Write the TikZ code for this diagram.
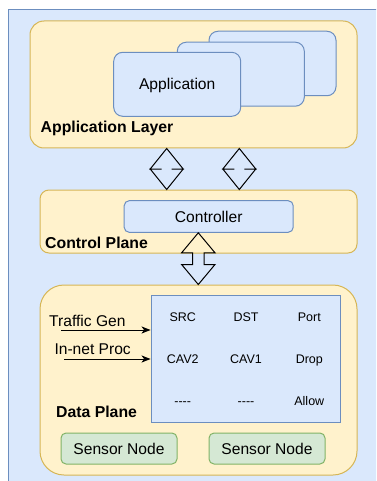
\documentclass[tikz,border=0pt]{standalone}
\usepackage{fontspec}
\setmainfont{Liberation Sans}
\usepackage{tikz}
\usetikzlibrary{matrix}
\usetikzlibrary{calc}
\usetikzlibrary{arrows.meta}
\usepackage{xcolor}

\definecolor{boxblue}{HTML}{DAE8FC}
\definecolor{lineblue}{HTML}{6C8EBF}
\definecolor{boxyellow}{HTML}{FFF2CC}
\definecolor{lineyellow}{HTML}{D6B656}
\definecolor{boxgreen}{HTML}{D5E8D4}
\definecolor{linegreen}{HTML}{82B366}

\newcommand{\labsize}{\fontsize{15.6}{18}\selectfont}
\newcommand{\cellsize}{\fontsize{12.5}{15}\selectfont}

\newcommand{\dblarrow}[5]{%
  \draw[dblarr] let \p1=(#1), \p2=(#2) in
    (\p1) -- ++(#3,#5) -- ++(#4-#3,0) -- (\x1+#4pt,\y2+#5pt) -- ++(#3-#4,0)
    -- (\p2) -- ++(-#3,-#5) -- ++(#3-#4,0) -- (\x1-#4pt,\y1-#5pt) -- ++(#4-#3,0) -- cycle;}

\begin{document}
\begin{tikzpicture}[x=1pt, y=-1pt,
  layer/.style={draw=lineyellow, fill=boxyellow, line width=1pt},
  bluebox/.style={draw=lineblue, fill=boxblue, line width=1pt, rounded corners=9pt,
    font=\labsize, text depth=0pt},
  sensor/.style={draw=linegreen, fill=boxgreen, line width=1pt, rounded corners=5pt,
    minimum width=116pt, minimum height=31pt, font=\labsize, text depth=0pt},
  title/.style={anchor=base west, inner sep=0pt, font=\fontsize{15.8}{18}\selectfont\bfseries},
  lab/.style={anchor=base west, inner sep=0pt, font=\labsize},
  feed/.style={line width=1pt, -{Stealth[length=9pt, width=7pt, inset=2.5pt]}},
  dblarr/.style={draw=black, line width=1pt, line join=miter},
]
  \useasboundingbox (0,0) rectangle (376,481);
  \clip (0,0) rectangle (376,481);
  \draw[draw=lineblue, fill=boxblue, line width=1pt] (8.3,10) rectangle (390,495);

  \node[layer, rounded corners=14pt, minimum width=327pt, minimum height=127pt] (applayer) at (193.5,84.5) {};
  \node[layer, rounded corners=9pt, minimum width=317pt, minimum height=63pt] (ctrlplane) at (198.5,221.5) {};
  \node[layer, rounded corners=24pt, minimum width=317pt, minimum height=190pt] (dataplane) at (198.5,380) {};

  \node[bluebox, minimum width=127pt, minimum height=64.5pt] (app3) at (272.5,63.5) {};
  \node[bluebox, minimum width=127pt, minimum height=64pt] (app2) at (240.8,74.2) {};
  \node[bluebox, minimum width=127pt, minimum height=64pt] (app) at (177.2,84.3) {Application};

  \node[title] (applabel) at (40.5,133) {Application Layer};
  \node[title] (ctrllabel) at (45,248.3) {Control Plane};
  \node[title] (datalabel) at (56,417.7) {Data Plane};

  \node[bluebox, rounded corners=5pt, minimum width=169pt, minimum height=31.6pt] (ctrl) at (208.7,216.5) {Controller};

  \matrix [
    matrix of nodes,
    draw=lineblue, fill=boxblue, line width=1pt,
    inner sep=0pt, column sep=0pt, row sep=0pt,
    nodes={minimum width=63.3pt, minimum height=42.2pt, text height=9pt, text depth=0pt,
      inner sep=0pt, font=\cellsize},
  ] (M) at (246,359) {
    SRC & DST & Port \\
    CAV2 & CAV1 & Drop \\
    -{}-{}-{}- & -{}-{}-{}- & Allow \\
  };

  \node[lab] (tgtext) at (49,326.5) {Traffic Gen};
  \node[lab] (iptext) at (54.3,354.5) {In-net Proc};
  \coordinate (tg) at (61,330);
  \coordinate (ip) at (64.3,359);
  \draw[feed] (tg) -- (tg -| M.west);
  \draw[feed] (ip) -- (ip -| M.west);

  \node[sensor] (sn1) at (119,448.5) {Sensor Node};
  \node[sensor] (sn2) at (267,448.5) {Sensor Node};

  \coordinate (ua) at (166.7,0);
  \coordinate (ub) at (239.3,0);
  \coordinate (uc) at (198.3,0);
  \dblarrow{ua |- applayer.south}{ua |- ctrlplane.north}{16.5}{5}{20.5}
  \dblarrow{ub |- applayer.south}{ub |- ctrlplane.north}{16.5}{5}{20.5}
  \dblarrow{uc |- ctrl.south}{uc |- dataplane.north}{16.7}{5.7}{20}

\end{tikzpicture}
\end{document}
